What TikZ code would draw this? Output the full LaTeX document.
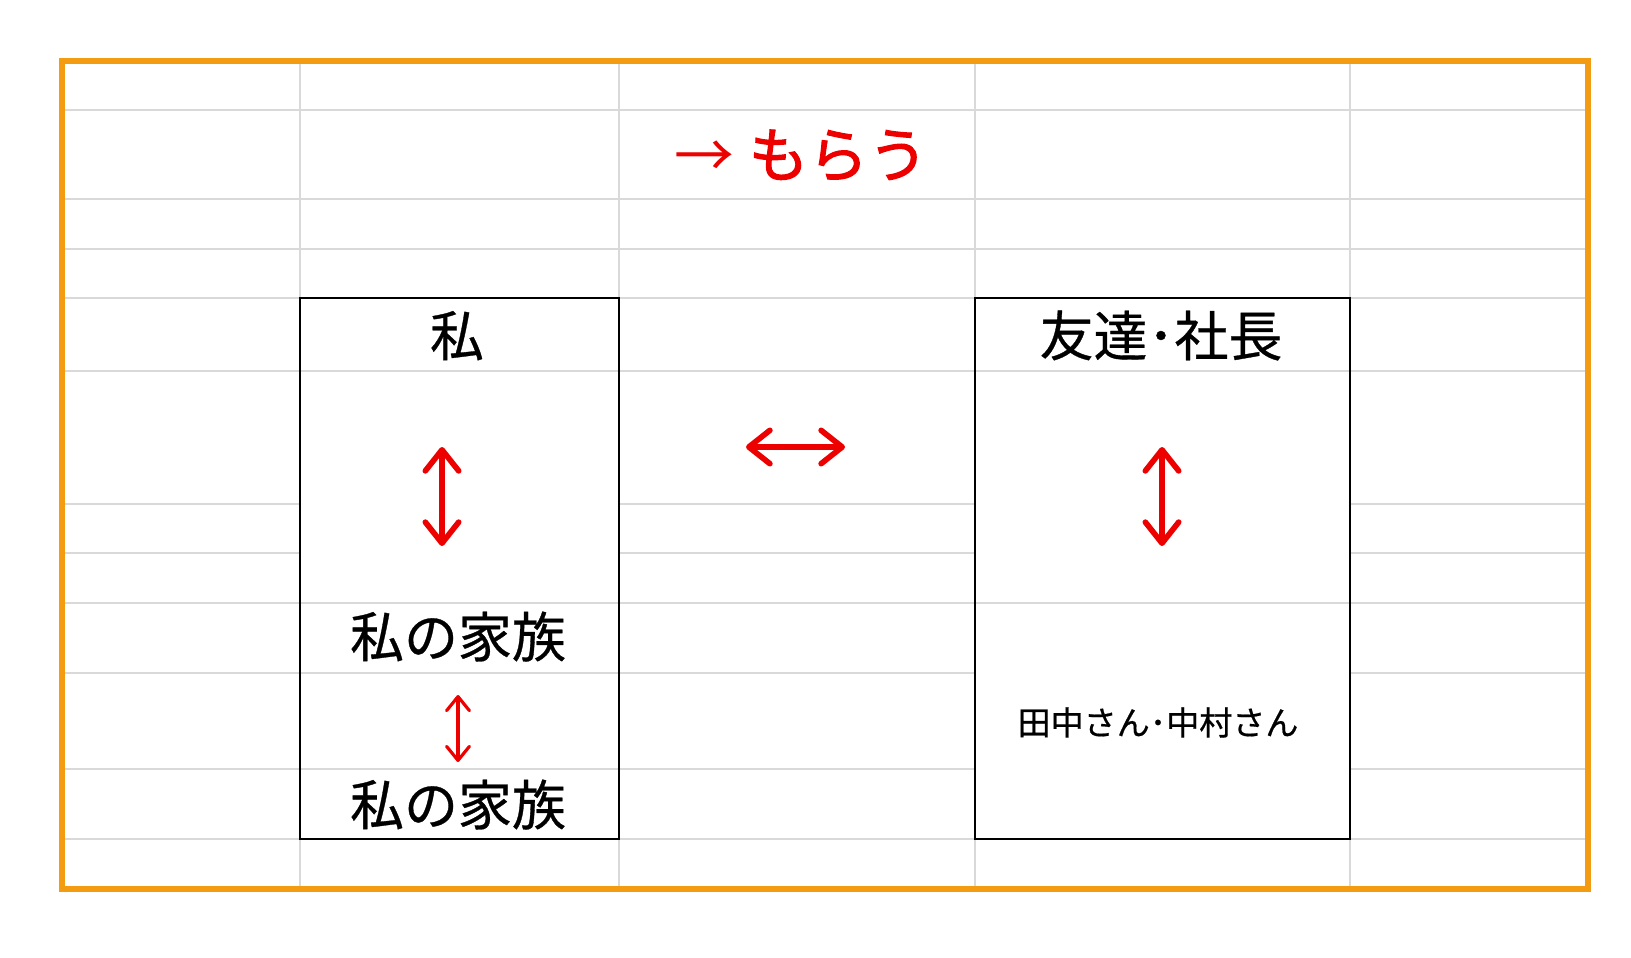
\documentclass[tikz,border=0pt]{standalone}
\usepackage{fontspec}
\setmainfont[FakeBold=0.6,AutoFakeBold=0.6]{Noto Sans CJK JP}
\newfontfamily\heavy[FakeBold=1.8]{Noto Sans CJK JP}
\newfontfamily\thin{Noto Sans CJK JP}
\usetikzlibrary{arrows.meta}
\definecolor{cellgray}{RGB}{217,217,217}
\definecolor{borderorange}{RGB}{243,156,18}
\definecolor{redtxt}{RGB}{236,0,0}

\begin{document}
\begin{tikzpicture}[x=0.02cm, y=-0.02cm,
  cell/.style={draw=cellgray, line width=1.1pt},
  box/.style={draw=black, line width=1.4pt},
  big/.style={anchor=base, inner sep=0pt, font=\fontsize{30.7}{36}\selectfont},
  small/.style={anchor=base, inner sep=0pt, font=\fontsize{18.8}{22}\selectfont},
  dbl/.style={redtxt, line width=3.2pt, arrows={Straight Barb[length=12pt,width=19pt,round]-Straight Barb[length=12pt,width=19pt,round]}},
  dblsmall/.style={redtxt, line width=1.8pt, arrows={Straight Barb[length=8pt,width=13pt,round]-Straight Barb[length=8pt,width=13pt,round]}}]
\useasboundingbox (0,0) rectangle (1631,957);
\fill[white] (0,0) rectangle (1631,957);

\foreach \x in {300,619,975,1350}
  \draw[cell] (\x,61) -- (\x,889);
\foreach \y in {110,199,249,298,371,603,839}
  \draw[cell] (62,\y) -- (1588,\y);
\foreach \y in {504,553}
  \draw[cell] (62,\y) -- (300,\y) (619,\y) -- (975,\y) (1350,\y) -- (1588,\y);
\foreach \y in {673,769}
  \draw[cell] (62,\y) -- (975,\y) (1350,\y) -- (1588,\y);

\draw[box] (300,298) rectangle (619,839);
\draw[box] (975,298) rectangle (1350,839);
\draw[borderorange, line width=3.4pt] (62,61) rectangle (1588,889);

\node(M) [anchor=base, inner sep=0pt, text=redtxt, font=\fontsize{34}{40}\selectfont] at (801,177) {{\thin →}\hspace{0.25em}{\heavy もらう}};
\node(W) [big] at (457,356) {私};
\node(W1) [big] at (458,657) {私の家族};
\node(W2) [big] at (458,825) {私の家族};
\node(T) [big] at (1161,356) {友達･社長};
\node(T1) [small] at (1158,735) {田中さん･中村さん};

\coordinate (Wa) at (442,447);
\coordinate (Wb) at (442,546);
\coordinate (Ta) at (1162,447);
\coordinate (Tb) at (1162,546);
\coordinate (La) at (746,447);
\coordinate (Lb) at (845,447);
\coordinate (Fa) at (458,695);
\coordinate (Fb) at (458,762);
\draw[dbl] (Wa) -- (Wb);
\draw[dbl] (Ta) -- (Tb);
\draw[dbl] (La) -- (Lb);
\draw[dblsmall] (Fa) -- (Fb);
\end{tikzpicture}
\end{document}
